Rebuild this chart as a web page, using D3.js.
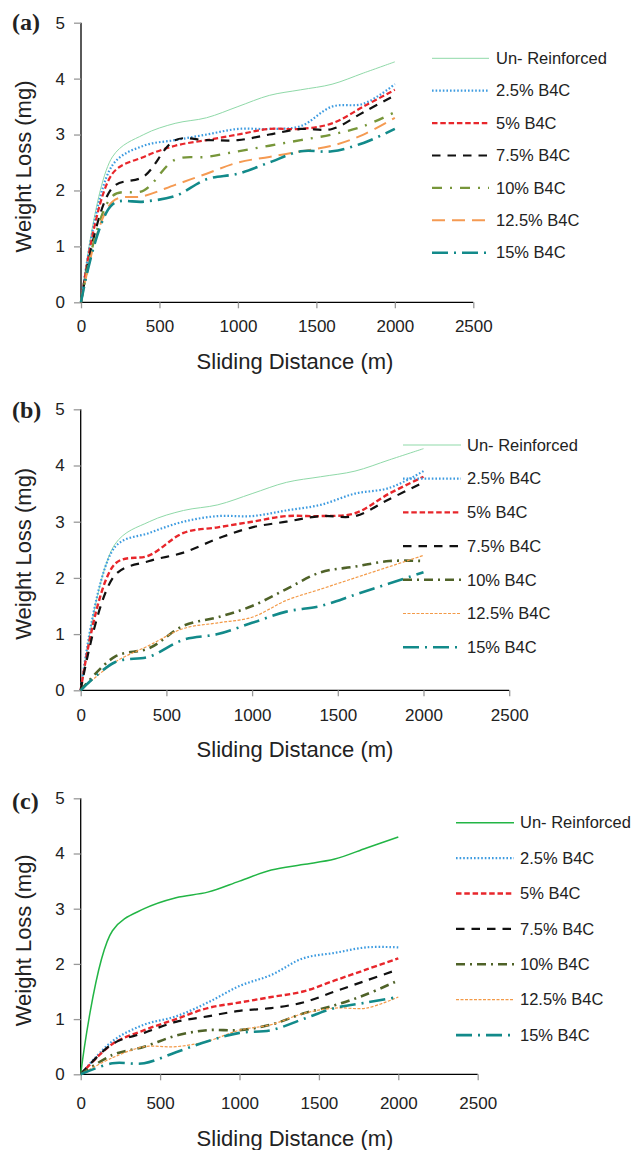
<!DOCTYPE html>
<html>
<head>
<meta charset="utf-8">
<script src="https://cdn.jsdelivr.net/npm/d3@7"></script>
<style>
  html, body { margin: 0; padding: 0; background: #fff; }
  svg { display: block; }
  text { font-family: "Liberation Sans", Arial, Helvetica, sans-serif; fill: #222; }
</style>
</head>
<body>
<svg id="chart" width="632" height="1150"></svg>
<script>
// Sliding distance (m) at which weight loss was recorded
const distance = [0, 200, 400, 600, 800, 1000, 1200, 1400, 1600, 1800, 2000];

const seriesNames = ["Un- Reinforced", "2.5% B4C", "5% B4C", "7.5% B4C", "10% B4C", "12.5% B4C", "15% B4C"];
const xTicks = [0, 500, 1000, 1500, 2000, 2500];
const yTicks = [0, 1, 2, 3, 4, 5];
const panelLabels = ["(a)", "(b)", "(c)"];

// Weight loss (mg) of the unreinforced alloy (same in every panel)
const unreinforced = [0, 2.6, 3.0, 3.2, 3.3, 3.5, 3.7, 3.8, 3.9, 4.1, 4.3];

// Panel (a)
const lossA_2_5  = [0, 2.45, 2.8, 2.9, 3.0, 3.1, 3.1, 3.15, 3.5, 3.55, 3.9];
const lossA_5    = [0, 2.3, 2.6, 2.8, 2.9, 3.0, 3.1, 3.1, 3.2, 3.5, 3.8];
const lossA_7_5  = [0, 2.05, 2.25, 2.9, 2.9, 2.9, 3.0, 3.1, 3.1, 3.4, 3.7];
const lossA_10   = [0, 1.9, 2.0, 2.55, 2.6, 2.7, 2.8, 2.9, 3.0, 3.15, 3.4];
const lossA_12_5 = [0, 1.8, 1.9, 2.1, 2.3, 2.5, 2.6, 2.7, 2.8, 3.0, 3.3];
const lossA_15   = [0, 1.75, 1.8, 1.9, 2.2, 2.3, 2.5, 2.7, 2.7, 2.85, 3.1];

// Panel (b)
const lossB_2_5  = [0, 2.55, 2.8, 3.0, 3.1, 3.1, 3.2, 3.3, 3.5, 3.6, 3.9];
const lossB_5    = [0, 2.25, 2.4, 2.8, 2.9, 3.0, 3.1, 3.1, 3.15, 3.5, 3.8];
const lossB_7_5  = [0, 2.05, 2.3, 2.45, 2.7, 2.9, 3.0, 3.1, 3.1, 3.4, 3.7];
const lossB_10   = [0, 0.6, 0.75, 1.15, 1.3, 1.5, 1.8, 2.1, 2.2, 2.3, 2.3];
const lossB_12_5 = [0, 0.5, 0.8, 1.1, 1.2, 1.3, 1.6, 1.8, 2.0, 2.2, 2.4];
const lossB_15   = [0, 0.5, 0.6, 0.9, 1.0, 1.2, 1.4, 1.5, 1.7, 1.9, 2.1];

// Panel (c)
const lossC_2_5  = [0, 0.6, 0.9, 1.05, 1.3, 1.6, 1.8, 2.1, 2.2, 2.3, 2.3];
const lossC_5    = [0, 0.55, 0.8, 1.0, 1.2, 1.3, 1.4, 1.5, 1.7, 1.9, 2.1];
const lossC_7_5  = [0, 0.55, 0.75, 0.95, 1.05, 1.15, 1.2, 1.3, 1.5, 1.7, 1.9];
const lossC_10   = [0, 0.35, 0.5, 0.7, 0.8, 0.8, 0.9, 1.1, 1.25, 1.45, 1.7];
const lossC_12_5 = [0, 0.3, 0.5, 0.5, 0.6, 0.8, 0.9, 1.1, 1.2, 1.2, 1.4];
const lossC_15   = [0, 0.2, 0.2, 0.4, 0.6, 0.75, 0.8, 1.0, 1.2, 1.3, 1.4];

const panelSeries = [
  [unreinforced, lossA_2_5, lossA_5, lossA_7_5, lossA_10, lossA_12_5, lossA_15],
  [unreinforced, lossB_2_5, lossB_5, lossB_7_5, lossB_10, lossB_12_5, lossB_15],
  [unreinforced, lossC_2_5, lossC_5, lossC_7_5, lossC_10, lossC_12_5, lossC_15]
];

// Line styles for each panel
const styleA = [
  { color: "#8fd9a8", width: 1,   dash: null },
  { color: "#3d9be0", width: 2.2, dash: "1.6,2" },
  { color: "#e8262b", width: 2.2, dash: "5.5,2.8" },
  { color: "#111111", width: 2.2, dash: "8.5,7" },
  { color: "#77963a", width: 2.4, dash: "10,8,2,8" },
  { color: "#f59a52", width: 2,   dash: "13,7" },
  { color: "#128a8a", width: 2.6, dash: "16,6,2,6" }
];
const styleB = [
  { color: "#8fd9a8", width: 1,   dash: null },
  { color: "#3d9be0", width: 2.2, dash: "1.6,2" },
  { color: "#e8262b", width: 2.4, dash: "5.5,2.8" },
  { color: "#111111", width: 2.2, dash: "8.5,7" },
  { color: "#4f6228", width: 2.6, dash: "9,5,2,5" },
  { color: "#f39a48", width: 1.2, dash: "3,1.5" },
  { color: "#128a8a", width: 2.6, dash: "16,6,2,6" }
];
const styleC = [
  { color: "#22b545", width: 1.5, dash: null },
  { color: "#3d9be0", width: 2.2, dash: "1.6,2" },
  { color: "#e8262b", width: 2.4, dash: "5.5,2.8" },
  { color: "#111111", width: 2.2, dash: "8.5,7" },
  { color: "#4f6228", width: 2.6, dash: "9,5,2,5" },
  { color: "#f39a48", width: 1.2, dash: "3,1.5" },
  { color: "#128a8a", width: 2.6, dash: "16,6,2,6" }
];
const panelStyles = [styleA, styleB, styleC];

// Geometry of each panel
const layout = [
  { x0: 81, x1: 473.3, yTop: 22.7, yBot: 302.3, xLab: 326, xTitle: 369, label: 30,
    leg: { x1: 432, x2: 489, tx: 496, y0: 58.3, dy: 32.4 } },
  { x0: 80.7, x1: 509.2, yTop: 409.3, yBot: 690.3, xLab: 715, xTitle: 757, label: 418,
    leg: { x1: 403, x2: 461, tx: 467, y0: 445, dy: 33.7 } },
  { x0: 80.7, x1: 477.7, yTop: 798.3, yBot: 1074.3, xLab: 1102.7, xTitle: 1146, label: 809,
    leg: { x1: 456, x2: 514, tx: 520, y0: 822.7, dy: 35.4 } }
];

const svg = d3.select("#chart");

layout.forEach((L, p) => {
  const g = svg.append("g");
  const x = d3.scaleLinear().domain([0, 2500]).range([L.x0, L.x1]);
  const y = d3.scaleLinear().domain([0, 5]).range([L.yBot, L.yTop]);

  // y axis
  const yAxis = g.append("g").attr("transform", `translate(${L.x0},0)`)
    .call(d3.axisLeft(y).tickValues(yTicks).tickSize(7).tickPadding(9).tickFormat(d3.format("d")));
  yAxis.select(".domain").attr("stroke", "#000").attr("stroke-width", 1.3).attr("d", `M0,${L.yBot}V${L.yTop}`);
  yAxis.selectAll(".tick line").attr("stroke", "#999").attr("stroke-width", 1.3);
  yAxis.selectAll(".tick text").style("font-size", "17px").attr("fill", "#222");

  // x axis
  const xAxis = g.append("g").attr("transform", `translate(0,${L.yBot})`)
    .call(d3.axisBottom(x).tickValues(xTicks).tickSize(6).tickPadding(0).tickFormat(d3.format("d")));
  xAxis.select(".domain").attr("stroke", "#000").attr("stroke-width", 1.3).attr("d", `M${L.x0},0H${L.x1}`);
  xAxis.selectAll(".tick line").attr("stroke", "#999").attr("stroke-width", 1.3);
  xAxis.selectAll(".tick text").style("font-size", "17px").attr("fill", "#222")
    .attr("y", L.xLab - L.yBot).attr("dy", "0.35em");

  // axis titles
  g.append("text").attr("x", 295).attr("y", L.xTitle).attr("text-anchor", "middle")
    .style("font-size", "22px").text("Sliding Distance (m)");
  const yMid = (L.yTop + L.yBot) / 2 + 4;
  g.append("text").attr("transform", `translate(31,${yMid}) rotate(-90)`).attr("text-anchor", "middle")
    .style("font-size", "22px").text("Weight Loss (mg)");

  // panel label
  g.append("text").attr("x", 12).attr("y", L.label)
    .style("font-family", "'Liberation Serif', 'Times New Roman', serif")
    .style("font-weight", "bold").style("font-size", "24px").text(panelLabels[p]);

  // series lines
  const line = d3.line()
    .x((d, i) => x(distance[i]))
    .y(d => y(d))
    .curve(d3.curveCatmullRom.alpha(0.5));

  panelSeries[p].forEach((vals, s) => {
    const st = panelStyles[p][s];
    g.append("path").datum(vals).attr("d", line)
      .attr("fill", "none").attr("stroke", st.color).attr("stroke-width", st.width)
      .attr("stroke-dasharray", st.dash);
  });

  // legend
  seriesNames.forEach((name, s) => {
    const st = panelStyles[p][s];
    const ly = L.leg.y0 + s * L.leg.dy;
    g.append("line").attr("x1", L.leg.x1).attr("x2", L.leg.x2).attr("y1", ly).attr("y2", ly)
      .attr("stroke", st.color).attr("stroke-width", st.width).attr("stroke-dasharray", st.dash);
    g.append("text").attr("x", L.leg.tx).attr("y", ly).attr("dy", "0.35em")
      .style("font-size", "16.5px").text(name);
  });
});
</script>
</body>
</html>
